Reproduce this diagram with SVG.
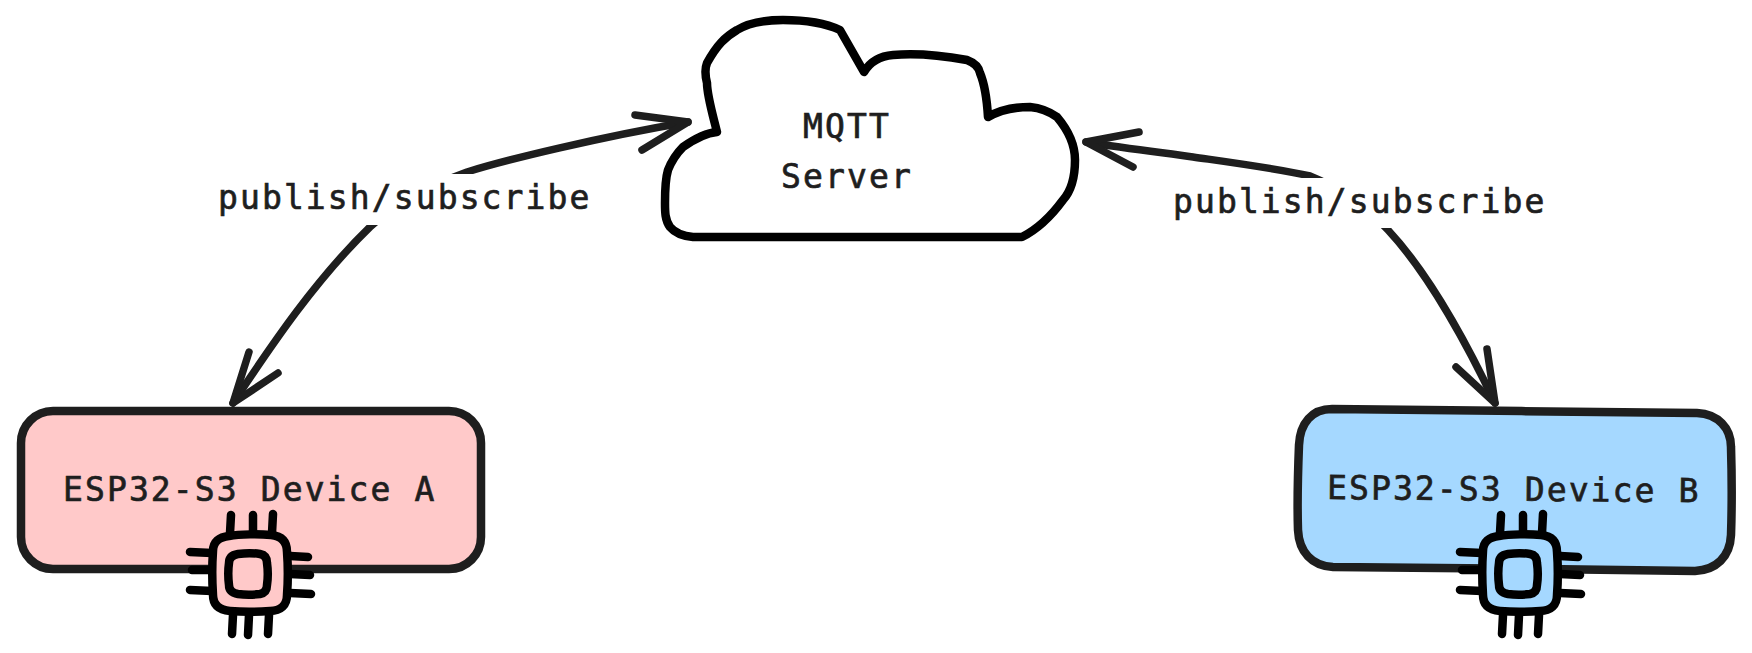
<svg xmlns="http://www.w3.org/2000/svg" width="1752" height="653" viewBox="0 0 1752 653">
<style>
.t{font-family:"DejaVu Sans Mono","Liberation Mono",monospace;font-size:33px;fill:#1e1e1e;stroke:#1e1e1e;stroke-width:.7px;letter-spacing:2.1px}
.c{text-anchor:middle}
.box{stroke:#1e1e1e;stroke-width:8.5;stroke-linejoin:round}
.pin{fill:none;stroke:#000;stroke-width:8.5;stroke-linecap:round;stroke-linejoin:round}
.body{stroke:#000;stroke-width:8.5;stroke-linejoin:round}
.ar{fill:none;stroke:#1e1e1e;stroke-width:7.5;stroke-linecap:round;stroke-linejoin:round}
</style>
<defs>
<g id="chip">
<path class="pin" d="M231,515L230,533M253,515L253,536M273,514L272,533M233,615L232,634M249,615L248,635M269,615L268,634M190,552L212,553M192,570L212,570M190,590L212,591M290,556L308,557M290,574L310,575M290,593L311,594"/>
<path class="body" d="M229,536C240,534 260,534 271,535C282,536 287,542 287,552C288,565 288,582 287,595C287,605 281,611 270,611C256,612 242,612 230,611C219,610 213,605 213,595C212,580 212,565 213,551C213,542 219,537 229,536Z"/>
<path class="pin" d="M238,554C245,553 254,553 260,554C265,555 267,558 267,563C268,570 268,578 267,585C267,590 265,593 260,594C252,595 245,595 238,594C232,593 229,590 229,585C228,577 228,570 229,563C229,558 232,555 238,554Z"/>
</g>
</defs>
<g id="connectors">
<path class="ar" d="M233,403C262,360 310,285 370,227C405,195 440,182 467,172C505,160 600,137 688,122"/>
<path class="ar" d="M635,115L688,122L642,150M249,352L233,403L278,373"/>
<rect x="215" y="174" width="380" height="51" fill="#fff"/>
<path class="ar" d="M1086,142C1130,149 1165,153 1193,157C1235,163 1280,169 1310,176C1340,188 1365,205 1388,230C1430,275 1470,350 1495,403"/>
<path class="ar" d="M1139,132L1086,142L1133,167M1487,349L1495,403L1456,367"/>
<rect x="1170" y="178" width="380" height="50" fill="#fff"/>
<text class="t" x="218" y="209">publish/subscribe</text>
<text class="t" x="1173" y="213">publish/subscribe</text>
</g>
<g id="cloud">
<path d="M717,132C712,112 707,95 707,83C705,75 705,68 707,63C717,45 725,37 737,30C750,22 765,20 783,20C803,20 825,23 840,30L864,72C870,62 880,56 893,55C915,53 945,56 967,60C975,63 979,68 980,73C985,85 987,100 988,117C1000,110 1015,107 1030,107C1040,108 1050,112 1057,117C1068,130 1075,145 1075,160C1075,175 1072,190 1063,200C1052,215 1040,228 1022,237L693,237C682,236 675,233 670,227C665,220 665,212 665,203C665,190 665,180 668,170C672,160 677,153 683,147C693,140 705,133 717,132Z" fill="#fff" stroke="#000" stroke-width="8.5" stroke-linejoin="round"/>
<text class="t c" x="847" y="138">MQTT</text>
<text class="t c" x="847" y="188">Server</text>
</g>
<g id="device-a">
<rect class="box" x="21" y="411" width="460" height="158" rx="32" fill="#ffc9c9"/>
<text class="t" x="63" y="501">ESP32-S3 Device A</text>
<use href="#chip" fill="#ffc9c9"/>
</g>
<g id="device-b">
<path class="box" fill="#a5d8ff" d="M1332,409C1420,410 1600,412 1697,413C1718,414 1731,428 1731,447C1732,480 1732,505 1731,535C1730,557 1716,570 1695,571C1600,570 1420,567 1333,567C1312,566 1299,552 1298,530C1297,500 1298,470 1299,445C1300,423 1312,409 1332,409Z"/>
<text class="t" x="1327" y="499" transform="rotate(0.5 1327 499)">ESP32-S3 Device B</text>
<use href="#chip" x="1270" fill="#a5d8ff"/>
</g>
</svg>
